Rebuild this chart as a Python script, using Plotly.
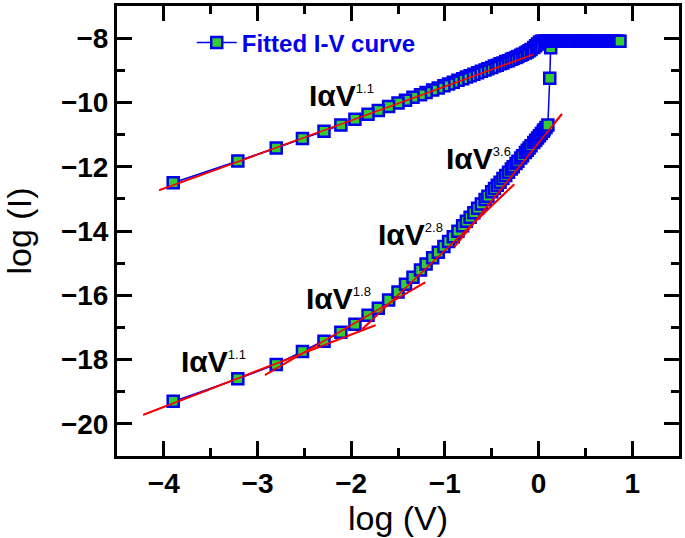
import plotly.graph_objects as go

# ---------------- data (log V, log I) ----------------
# forward sweep, high-resistance (lower) branch
lower_logv = [-3.90, -3.21, -2.80, -2.52, -2.29, -2.11, -1.96, -1.82, -1.71, -1.60,
              -1.50, -1.42, -1.34, -1.26, -1.20, -1.13, -1.07, -1.01, -0.96, -0.91,
              -0.86, -0.81, -0.77, -0.73, -0.69, -0.65, -0.61, -0.57, -0.54, -0.50,
              -0.47, -0.44, -0.41, -0.38, -0.35, -0.32, -0.29, -0.27, -0.24, -0.22,
              -0.19, -0.17, -0.14, -0.12, -0.10, -0.08, -0.05, -0.03, -0.01, 0.01,
              0.03, 0.05, 0.06, 0.08, 0.10]
lower_logi = [-19.30, -18.60, -18.15, -17.75, -17.43, -17.15, -16.90, -16.62, -16.40, -16.15,
              -15.90, -15.66, -15.44, -15.21, -15.03, -14.83, -14.66, -14.48, -14.33, -14.18,
              -14.01, -13.84, -13.70, -13.57, -13.43, -13.29, -13.16, -13.02, -12.92, -12.78,
              -12.68, -12.58, -12.48, -12.37, -12.27, -12.17, -12.07, -12.00, -11.90, -11.83,
              -11.73, -11.66, -11.56, -11.49, -11.42, -11.35, -11.25, -11.18, -11.11, -11.04,
              -10.97, -10.90, -10.85, -10.78, -10.70]
# set transition
set_logv = [0.12, 0.13]
set_logi = [-9.25, -8.30]
# compliance plateau
comp_logv = [0.15, 0.17, 0.19, 0.21, 0.23, 0.25, 0.27, 0.29, 0.31, 0.33,
             0.35, 0.37, 0.39, 0.41, 0.43, 0.45, 0.47, 0.49, 0.51, 0.53,
             0.55, 0.57, 0.59, 0.61, 0.63, 0.65, 0.67, 0.69, 0.71, 0.73,
             0.75, 0.77, 0.79, 0.81, 0.83, 0.85, 0.87]
comp_logi = [-8.10] * len(comp_logv)
# return sweep, low-resistance (upper) branch (same voltage points as lower_logv)
upper_logv = lower_logv
upper_logi = [-12.50, -11.82, -11.42, -11.12, -10.90, -10.70, -10.52, -10.37, -10.25, -10.13,
              -10.02, -9.93, -9.84, -9.76, -9.69, -9.61, -9.55, -9.48, -9.43, -9.37,
              -9.31, -9.26, -9.21, -9.17, -9.12, -9.08, -9.03, -8.99, -8.95, -8.91,
              -8.87, -8.84, -8.80, -8.77, -8.73, -8.70, -8.66, -8.63, -8.60, -8.57,
              -8.53, -8.50, -8.46, -8.43, -8.39, -8.35, -8.29, -8.24, -8.18, -8.13,
              -8.10, -8.10, -8.10, -8.10, -8.10]

# power-law fit segments (end points)
fit_upper_v = [-4.05, -0.05]
fit_upper_i = [-12.73, -8.50]
fit_l11_v = [-4.22, -1.74]
fit_l11_i = [-19.72, -16.93]
fit_l18_v = [-2.92, -1.21]
fit_l18_i = [-18.48, -15.60]
fit_l28_v = [-1.88, -0.26]
fit_l28_i = [-17.05, -12.55]
fit_l36_v = [-0.90, 0.25]
fit_l36_i = [-14.50, -10.36]

labels = ["1.1", "3.6", "2.8", "1.8", "1.1"]
label_v = [-2.10, -0.64, -1.37, -2.13, -3.47]
label_i = [-9.77, -11.75, -14.11, -16.09, -18.05]

# ---------------- figure ----------------
FONT = "Liberation Sans, Arial, sans-serif"
all_v = lower_logv + set_logv + comp_logv + upper_logv[::-1]
all_i = lower_logi + set_logi + comp_logi + upper_logi[::-1]
fits = [(fit_upper_v, fit_upper_i), (fit_l11_v, fit_l11_i), (fit_l18_v, fit_l18_i),
        (fit_l28_v, fit_l28_i), (fit_l36_v, fit_l36_i)]

fig = go.Figure()
for fv, fi in fits:
    fig.add_trace(go.Scatter(x=fv, y=fi, mode="lines", line=dict(color="#ff0000", width=2),
                             showlegend=False, hoverinfo="skip"))

fig.add_trace(go.Scatter(
    x=all_v, y=all_i, mode="lines+markers", name="Fitted I-V curve",
    line=dict(color="#0000ee", width=1.5),
    marker=dict(symbol="square", size=11, color="#33cc33",
                line=dict(color="#0000ee", width=2.5)),
))
# fits again on top so the red shows over the markers
for fv, fi in fits:
    fig.add_trace(go.Scatter(x=fv, y=fi, mode="lines", line=dict(color="#ff0000", width=1.6),
                             showlegend=False, hoverinfo="skip"))

for t, xv, yv in zip(labels, label_v, label_i):
    fig.add_annotation(
        x=xv, y=yv, xref="x", yref="y", showarrow=False,
        text="<b>I\u03b1V</b><sup><span style='font-size:13px'>" + t + "</span></sup>",
        font=dict(family=FONT, size=30, color="black"),
        xanchor="center", yanchor="middle",
    )

axis_common = dict(
    showline=True, linecolor="black", linewidth=3, mirror="ticks",
    ticks="inside", ticklen=15, tickwidth=2.5, tickcolor="black",
    showgrid=False, zeroline=False,
    tickfont=dict(family=FONT, size=28, color="black", weight="bold"),
)
fig.update_xaxes(range=[-4.5, 1.5], dtick=1, tick0=0,
                 minor=dict(dtick=0.5, ticks="inside", ticklen=8, tickwidth=2.5, tickcolor="black"),
                 title=dict(text="log (V)", font=dict(family=FONT, size=34, color="black"), standoff=6),
                 **axis_common)
fig.update_yaxes(range=[-21, -7], dtick=2, tick0=0,
                 minor=dict(dtick=1, ticks="inside", ticklen=8, tickwidth=2.5, tickcolor="black"),
                 title=dict(text="log (I)", font=dict(family=FONT, size=34, color="black"), standoff=22),
                 **axis_common)

fig.update_layout(
    width=685, height=538,
    margin=dict(l=117, r=5, t=3, b=82),
    plot_bgcolor="white", paper_bgcolor="white",
    showlegend=True,
    legend=dict(x=0.133, y=0.968, xanchor="left", yanchor="top", bgcolor="rgba(0,0,0,0)",
                font=dict(family=FONT, size=24, color="#0000ee", weight="bold"),
                itemwidth=40),
)

fig.write_html("out.html", config={"displayModeBar": False},
               post_script="document.body.style.margin='0';")
